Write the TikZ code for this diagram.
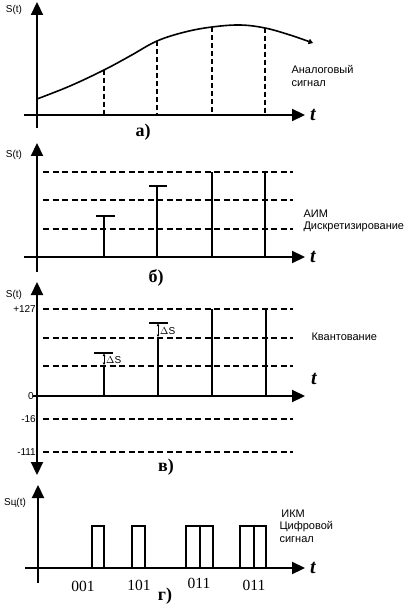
\documentclass[tikz,border=0pt]{standalone}
\usepackage{fontspec}
\setmainfont{Liberation Serif}
\newfontfamily\labfont{Liberation Sans}
\usetikzlibrary{arrows.meta}

\begin{document}
\begin{tikzpicture}[x=1pt, y=-1pt,
  axis/.style={line width=2.2pt, -{Triangle[length=13pt, width=12pt]}},
  guide/.style={line width=1.5pt, dash pattern=on 6pt off 3.5pt},
  drop/.style={line width=1.2pt, dash pattern=on 5pt off 3pt},
  stick/.style={line width=2.8pt},
  pulse/.style={line width=1.3pt},
  note/.style={font=\labfont\fontsize{11}{12.5}\selectfont, align=left, anchor=west},
  tick/.style={font=\labfont\fontsize{10}{12}\selectfont, anchor=east, inner sep=1pt},
  tvar/.style={font=\fontsize{20}{20}\selectfont\bfseries\itshape},
  panel/.style={font=\fontsize{18}{18}\selectfont\bfseries},
  code/.style={font=\fontsize{15.5}{15.5}\selectfont}]
  \useasboundingbox (0,0) rectangle (417,609);

  % a) analog signal
  \draw[axis] (37,128) -- (37,2);
  \draw[axis] (24,115) -- (305,115);
  \node[tick, anchor=center] (sa) at (14,10) {S(t)};
  \node[tvar] (ta) at (313,115) {t};
  \draw[line width=1.6pt, -{Straight Barb[length=3pt, width=4pt]}] plot[smooth, tension=0.6]
    coordinates {(37,99) (70,86) (104,70) (130,56) (157,41) (185,32) (212,27) (240,25) (265,28) (290,35) (313,43)};
  \foreach \x/\y in {104/70, 157/41, 212/27, 265/28}
    \draw[drop] (\x,\y) -- (\x,115);
  \node[note] (na) at (288,76) {Аналоговый\\сигнал};
  \node[panel] (pa) at (143,132) {а)};

  % b) sampling (AIM)
  \draw[axis] (37,272) -- (37,143);
  \draw[axis] (24,257) -- (305,257);
  \node[tick, anchor=center] (sb) at (14,155) {S(t)};
  \node[tvar] (tb) at (313,257) {t};
  \foreach \y in {172, 200, 229}
    \draw[guide] (43,\y) -- (293,\y);
  \draw[stick] (104,257) -- (104,216);
  \draw[pulse] (96,216) -- (115,216);
  \draw[stick] (157,257) -- (157,186);
  \draw[pulse] (149,186) -- (167,186);
  \draw[stick] (212,257) -- (212,172);
  \draw[stick] (265,257) -- (265,172);
  \node[note] (nb) at (300,221) {АИМ\\Дискретизирование};
  \node[panel] (pb) at (156,278) {б)};

  % v) quantization
  \draw[axis, {Triangle[length=13pt, width=12pt]}-{Triangle[length=13pt, width=12pt]}] (37,475) -- (37,282);
  \draw[axis] (33,396) -- (305,396);
  \node[tick, anchor=center] (sc) at (14,295) {S(t)};
  \node[tvar] (tc) at (314,379) {t};
  \foreach \y in {309, 338, 366, 419, 452}
    \draw[guide] (43,\y) -- (293,\y);
  \node[tick] (q127) at (37,309) {+127};
  \node[tick] (q0) at (35,396) {0};
  \node[tick] (q16) at (37,419) {-16};
  \node[tick] (q111) at (37,452) {-111};
  \draw[stick] (104,396) -- (104,366);
  \draw[pulse] (94,353) -- (113,353);
  \draw[{Latex[length=2.5pt, width=3pt]}-{Latex[length=2.5pt, width=3pt]}, line width=0.6pt] (104,353.5) -- (104,365);
  \node[tick, anchor=west] (ds1) at (105,360) {$\Delta$S};
  \draw[stick] (158,396) -- (158,338);
  \draw[pulse] (149,323) -- (168,323);
  \draw[{Latex[length=2.5pt, width=3pt]}-{Latex[length=2.5pt, width=3pt]}, line width=0.6pt] (158,323.5) -- (158,337);
  \node[tick, anchor=west] (ds2) at (159,331) {$\Delta$S};
  \draw[stick] (212,396) -- (212,309);
  \draw[stick] (266,396) -- (266,309);
  \node[note] (nc) at (308,337) {Квантование};
  \node[panel] (pc) at (166,467) {в)};

  % g) PCM digital signal
  \draw[axis] (38,583) -- (38,485);
  \draw[axis] (25,568) -- (305,568);
  \node[tick, anchor=center] (sd) at (15,503) {Sц(t)};
  \node[tvar] (td) at (313,568) {t};
  \foreach \l/\r in {92/104, 132/145, 186/200, 200/213, 240/254, 254/266}
    \draw[pulse] (\l,568) -- (\l,526) -- (\r,526) -- (\r,568);
  \node[note] (nd) at (276,526) {\,ИКМ\\Цифровой\\сигнал};
  \node[code] (c1) at (83,586) {001};
  \node[code] (c2) at (139,585) {101};
  \node[code] (c3) at (199,583) {011};
  \node[code] (c4) at (254,585) {011};
  \node[panel] (pd) at (165,596) {г)};
\end{tikzpicture}
\end{document}
